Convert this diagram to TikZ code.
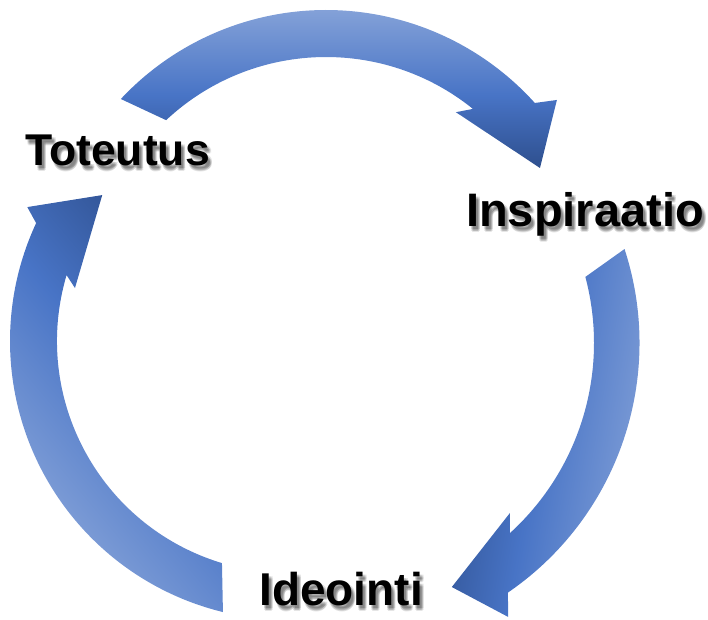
\documentclass[tikz,border=0pt]{standalone}
\usepackage{fontspec}
\setmainfont{Liberation Sans}
\usetikzlibrary{calc}
\definecolor{lightblue}{HTML}{8EA9DB}
\definecolor{midblue}{HTML}{4874C6}
\definecolor{darkblue}{HTML}{2E4F8E}
\pgfdeclareverticalshading{arrowfade}{100bp}{color(0bp)=(darkblue); color(25bp)=(darkblue);
	color(46bp)=(midblue); color(75bp)=(lightblue); color(100bp)=(lightblue)}

\begin{document}
\begin{tikzpicture}[x=1pt,y=1pt,
	phase/.style={inner sep=0pt,anchor=base,font=\bfseries\fontsize{#1}{#1}\selectfont},
	phaseshadow/.style={phase=#1,text=black,opacity=0.1}]
	%\draw[help lines] (0,0) grid[step=50] (708,619);
	\useasboundingbox (0,0) rectangle (708,619);
	
	%TOP ARROW
	\begin{scope}[shift={(326,328)}]
		\shade[shading=arrowfade,shading angle=0]
		(136.9:281) arc[start angle=136.9,end angle=42,radius=281]
		-- (39.6:299.7) -- (29.9:246.8) -- (54:221) -- (51.1:234)
		arc[start angle=51.1,end angle=133.1,radius=234] -- cycle;
	\end{scope}
	
	%RIGHT ARROW
	\begin{scope}[shift={(337,276)}]
		\shade[shading=arrowfade,shading angle=-100]
		(18.1:302.5) arc[start angle=18.1,end angle=-55.6,radius=302.5]
		-- (-58:323) -- (-64.8:269.7) -- (-44.5:242.5) -- (-47.7:257)
		arc[start angle=-47.7,end angle=14.9,radius=257] -- cycle;
	\end{scope}
	
	%LEFT ARROW
	\begin{scope}[shift={(289,278)}]
		\shade[shading=arrowfade,shading angle=130]
		(-103.7:279) arc[start angle=-103.7,end angle=-205,radius=279]
		-- (152.9:294) -- (142:237) -- (166.1:220.5) -- (163.5:232)
		arc[start angle=163.5,end angle=253.2,radius=232] -- cycle;
	\end{scope}
	
	%LABELS
	\foreach \name/\x/\y/\size/\txt in {toteutus/117.5/453/44.5/Toteutus,
		inspiraatio/585/392/47/Inspiraatio, ideointi/341/14/46/Ideointi}{
		\foreach \i/\dx/\dy in {1/2/-3,2/3/-4,3/4/-5,4/2/-5,5/4/-3,6/3/-6}
			\node[phaseshadow=\size] (\name-sh\i) at (\x+\dx,\y+\dy) {\txt};
		\node[phase=\size] (\name) at (\x,\y) {\txt};
	}
	
\end{tikzpicture}
\end{document}
